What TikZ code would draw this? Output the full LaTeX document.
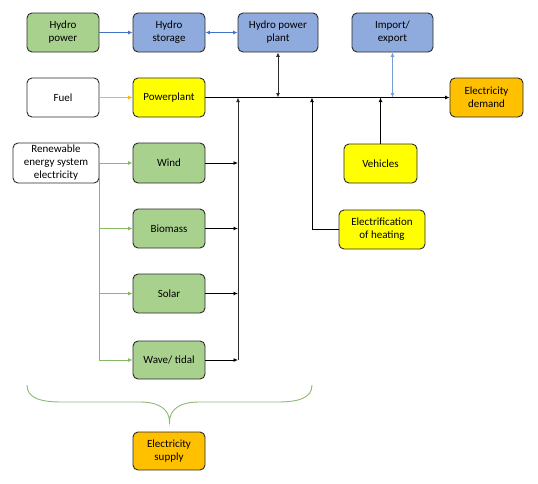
\documentclass[tikz,border=0pt]{standalone}
\usepackage{fontspec}
\setmainfont{Carlito}
\usetikzlibrary{arrows.meta}
\definecolor{bgreen}{HTML}{A9D18E}
\definecolor{bblue}{HTML}{8FAADC}
\definecolor{byellow}{HTML}{FFFF00}
\definecolor{borange}{HTML}{FFC000}
\definecolor{edgec}{HTML}{2B2B2B}
\definecolor{lblue}{HTML}{4472C4}
\definecolor{lblue2}{HTML}{7A9CD6}
\definecolor{lgreen}{HTML}{86BA62}
\definecolor{lorange}{HTML}{FFB800}
\definecolor{bracec}{HTML}{8DB873}
\tikzset{
  box/.style={draw=edgec, line width=0.9pt, rounded corners=5pt, align=center,
    font=\fontsize{11}{13}\selectfont, inner sep=1pt, minimum width=72pt, minimum height=39pt},
  conn/.style={line width=0.9pt, -{Latex[length=4.5pt,width=4pt]}},
  dconn/.style={line width=0.9pt, {Latex[length=4.5pt,width=4pt]}-{Latex[length=4.5pt,width=4pt]}},
}
\begin{document}
\begin{tikzpicture}[x=1pt,y=-1pt]
\useasboundingbox (0,0) rectangle (538,483);
% nodes
\node[box, fill=bgreen] (hp) at (63,32.5) {Hydro\\power};
\node[box, fill=bblue] (hs) at (169,32.5) {Hydro\\storage};
\node[box, fill=bblue, minimum width=80pt] (hpp) at (278,32.5) {Hydro power\\plant};
\node[box, fill=bblue, minimum width=81pt] (ie) at (392.5,32.5) {Import/\\export};
\node[box, fill=white] (fuel) at (63,97.5) {Fuel};
\node[box, fill=byellow] (pp) at (169,97.5) {Powerplant};
\node[box, fill=borange, minimum width=73pt] (ed) at (486.5,97.5) {Electricity\\demand};
\node[box, fill=white, minimum width=86pt, minimum height=40pt] (ren) at (56,163) {Renewable\\energy system\\electricity};
\node[box, fill=bgreen, minimum height=40pt] (wind) at (169,163) {Wind};
\node[box, fill=bgreen] (bio) at (169,228.5) {Biomass};
\node[box, fill=bgreen] (sol) at (169,293.5) {Solar};
\node[box, fill=bgreen, minimum height=38pt] (wave) at (169,360) {Wave/ tidal};
\node[box, fill=byellow, minimum width=73pt] (veh) at (380.5,163.5) {Vehicles};
\node[box, fill=byellow, minimum width=86pt] (heat) at (382,229.5) {Electrification\\of heating};
\node[box, fill=borange, minimum height=38pt] (sup) at (169,451) {Electricity\\supply};
% coordinates
\coordinate (vb) at (238,360);
\coordinate (hx) at (312,97.5);
% connectors
\draw[conn, lblue] (hp) -- (hs);
\draw[dconn, lblue] (hs) -- (hpp);
\draw[conn, lorange] (fuel) -- (pp);
\draw[conn, black] (pp.east) -- (ed.west);
\draw[dconn, edgec] (hpp.south) -- (hpp.south |- pp.east);
\draw[dconn, lblue2] (ie.south) -- (ie.south |- pp.east);
\draw[conn, edgec] (vb) -- (vb |- pp.east);
\foreach \n in {wind,bio,sol,wave}{
  \draw[conn, black] (\n.east) -- (\n.east -| vb);
}
\draw[conn, black] (veh.north) -- (veh.north |- pp.east);
\draw[conn, black] (heat.west) -| (hx);
\draw[conn, lgreen] (ren.east) -- (wind.west);
\foreach \n in {bio,sol,wave}{
  \draw[conn, lgreen] (ren.east) |- (\n.west);
}
% brace
\draw[bracec, line width=0.9pt] (27,385) .. controls (27,398) and (40,402) .. (62,402)
  -- (140,402) .. controls (160,402) and (169.5,410) .. (169.5,422)
  .. controls (169.5,410) and (179,402) .. (199,402) -- (277,402)
  .. controls (299,402) and (312,398) .. (312,385);
\end{tikzpicture}
\end{document}
